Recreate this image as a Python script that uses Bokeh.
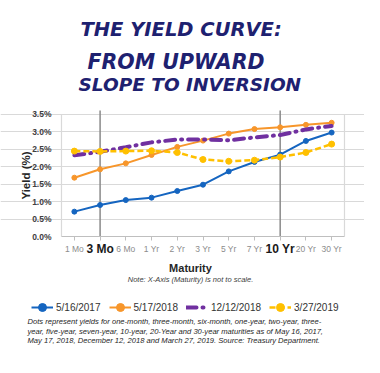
import math
from bokeh.plotting import figure
from bokeh.models import (Range1d, FixedTicker, Label, Legend, LegendItem, LinearAxis, Grid,
                          PrintfTickFormatter)
from bokeh.embed import file_html
from bokeh.resources import INLINE

maturities = ["1 Mo", "3 Mo", "6 Mo", "1 Yr", "2 Yr", "3 Yr", "5 Yr", "7 Yr", "10 Yr", "20 Yr", "30 Yr"]
y_2017 = [0.71, 0.90, 1.04, 1.11, 1.30, 1.48, 1.86, 2.13, 2.34, 2.73, 2.97]
y_2018a = [1.68, 1.92, 2.09, 2.33, 2.56, 2.74, 2.94, 3.07, 3.12, 3.19, 3.25]
y_2018b = [2.32, 2.42, 2.55, 2.69, 2.77, 2.77, 2.75, 2.83, 2.90, 3.06, 3.16]
y_2019 = [2.44, 2.43, 2.44, 2.45, 2.40, 2.20, 2.15, 2.18, 2.27, 2.40, 2.64]
series_labels = ["5/16/2017", "5/17/2018", "12/12/2018", "3/27/2019"]
y_ticks = [0.0, 0.5, 1.0, 1.5, 2.0, 2.5, 3.0, 3.5]
highlight = ["3 Mo", "10 Yr"]

xs = list(range(len(maturities)))
n = len(maturities)

W, H = 364, 357
OFF = 0  # observed page offset of the figure
CL, CR, CB, CT = 61.0, 344.0, 236.0, 113.5
XU = (CR - CL) / n
YU = (CB - CT) / y_ticks[-1]

def X(px):
    return -0.5 + (px - CL) / XU
def Y(py):
    return (CB - py) / YU

p = figure(width=W, height=H, output_backend="svg", toolbar_location=None,
           x_range=Range1d(X(OFF), X(OFF + W)), y_range=Range1d(Y(OFF + H), Y(OFF)),
           x_axis_location=None, y_axis_location=None,
           min_border=0, min_border_left=0, min_border_right=0, min_border_top=0, min_border_bottom=0)
p.outline_line_color = None
p.background_fill_color = "white"
p.border_fill_color = "white"
p.grid.grid_line_color = None

x0, x1 = -0.5, n - 0.5

ygrid = Grid(dimension=1, ticker=FixedTicker(ticks=y_ticks[1:]), bounds=(x0, x1),
             grid_line_color="#d9d9d9", grid_line_width=1.2)
p.add_layout(ygrid)

p.segment(x0=[x0, x1], y0=[0, 0], x1=[x0, x1], y1=[y_ticks[-1]] * 2, line_color="#d9d9d9", line_width=1.2)
hi_idx = [maturities.index(m) for m in highlight]
p.segment(x0=hi_idx, y0=[0] * 2, x1=hi_idx, y1=[Y(110)] * 2, line_color="#8a8a8a", line_width=1.5)

yaxis = LinearAxis(fixed_location=x0, ticker=FixedTicker(ticks=y_ticks),
                   formatter=PrintfTickFormatter(format="%.1f%%"),
                   axis_line_color=None, major_tick_line_color=None, minor_tick_line_color=None,
                   major_label_text_font="Liberation Sans", major_label_text_font_style="bold",
                   major_label_text_font_size="8.5px", major_label_text_color="#404040",
                   major_label_standoff=4)
p.add_layout(yaxis, "left")

xaxis = LinearAxis(fixed_location=0, ticker=FixedTicker(ticks=xs), bounds=(x0, x1),
                   major_label_overrides={i: ("" if m in highlight else m) for i, m in enumerate(maturities)},
                   axis_line_color="#bfbfbf", axis_line_width=1.2,
                   major_tick_line_color="#bfbfbf", major_tick_in=0, major_tick_out=4,
                   minor_tick_line_color=None,
                   major_label_text_font="Liberation Sans", major_label_text_font_size="8.5px",
                   major_label_text_color="#8c8c8c", major_label_standoff=3)
p.add_layout(xaxis, "below")

for i in hi_idx:
    p.add_layout(Label(x=i, y=Y(248), text=maturities[i], text_align="center",
                       text_baseline="middle", text_font="Liberation Sans",
                       text_font_style="bold", text_font_size="12px", text_color="#1a1a1a"))

colors = ["#1565c0", "#f7962b", "#7030a0", "#ffc000"]
r1 = p.line(xs, y_2017, line_color=colors[0], line_width=2)
m1 = p.scatter(xs, y_2017, marker="circle", size=5, fill_color=colors[0], line_color=colors[0])
r2 = p.line(xs, y_2018a, line_color=colors[1], line_width=2)
m2 = p.scatter(xs, y_2018a, marker="circle", size=5, fill_color=colors[1], line_color=colors[1])
r3 = p.line(xs, y_2018b, line_color=colors[2], line_width=4, line_dash="10 6 1 6", line_cap="round")
r4 = p.line(xs, y_2019, line_color=colors[3], line_width=2.5, line_dash="6 3")
m4 = p.scatter(xs, y_2019, marker="circle", size=6, fill_color=colors[3], line_color=colors[3])

items = [LegendItem(label=series_labels[0], renderers=[r1, m1]),
         LegendItem(label=series_labels[1], renderers=[r2, m2]),
         LegendItem(label=series_labels[2], renderers=[r3]),
         LegendItem(label=series_labels[3], renderers=[r4, m4])]
legend = Legend(items=items, orientation="horizontal", location=(31 - OFF, (OFF + H) - 317),
                border_line_color=None, background_fill_alpha=0, padding=0, margin=0,
                spacing=8, label_standoff=3, glyph_width=22, glyph_height=20,
                label_text_font="Liberation Sans", label_text_font_size="10px",
                label_text_color="#333333")
p.add_layout(legend, "center")

tcol = "#1e2170"
for txt, px, py, fs in [("THE  YIELD  CURVE:", 80, 29, "19.5px"),
                        ("FROM  UPWARD", 87, 61, "20.5px"),
                        ("SLOPE TO INVERSION", 78, 84, "18.5px")]:
    p.add_layout(Label(x=X(px), y=Y(py), text=txt, text_align="left", text_baseline="middle",
                       text_font="DejaVu Sans", text_font_style="bold italic",
                       text_font_size=fs, text_color=tcol))

p.add_layout(Label(x=X(25), y=Y(175), text="Yield (%)", angle=math.pi / 2,
                   text_align="center", text_baseline="middle",
                   text_font="Liberation Sans", text_font_style="bold", text_font_size="11.5px",
                   text_color="#262626"))

p.add_layout(Label(x=X(190), y=Y(267), text="Maturity", text_align="center", text_baseline="middle",
                   text_font="Liberation Sans", text_font_style="bold", text_font_size="11px",
                   text_color="#262626"))
p.add_layout(Label(x=X(190), y=Y(279), text="Note: X-Axis (Maturity) is not to scale.",
                   text_align="center", text_baseline="middle", text_font="Liberation Sans",
                   text_font_style="italic", text_font_size="7.5px", text_color="#404040"))

notes = ["Dots represent yields for one-month, three-month, six-month, one-year, two-year, three-",
         "year, five-year, seven-year, 10-year, 20-Year and 30-year maturities as of May 16, 2017,",
         "May 17, 2018, December 12, 2018 and March 27, 2019. Source: Treasury Department."]
for k, line in enumerate(notes):
    p.add_layout(Label(x=X(27), y=Y(321 + 9.7 * k), text=line, text_align="left", text_baseline="middle",
                       text_font="Liberation Sans", text_font_style="italic", text_font_size="7.6px",
                       text_color="#262626"))

open("out.html", "w").write(file_html(p, INLINE))
